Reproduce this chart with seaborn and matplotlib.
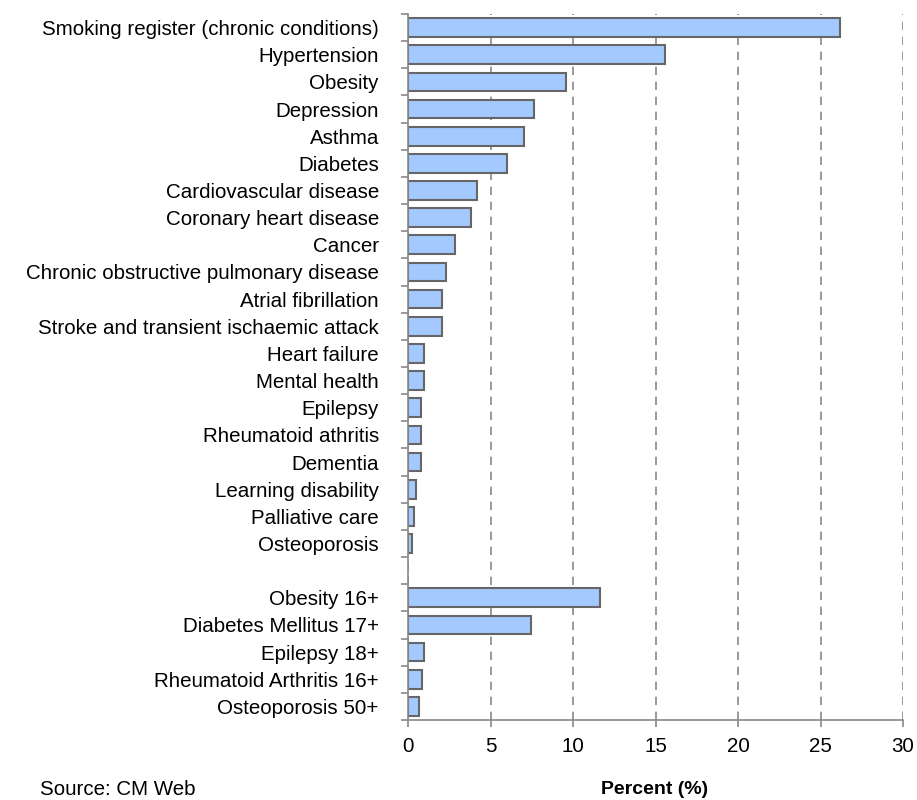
import numpy as np
import pandas as pd
import seaborn as sns
import matplotlib.pyplot as plt

conditions = [
    "Smoking register (chronic conditions)", "Hypertension", "Obesity",
    "Depression", "Asthma", "Diabetes", "Cardiovascular disease",
    "Coronary heart disease", "Cancer",
    "Chronic obstructive pulmonary disease", "Atrial fibrillation",
    "Stroke and transient ischaemic attack", "Heart failure",
    "Mental health", "Epilepsy", "Rheumatoid athritis", "Dementia",
    "Learning disability", "Palliative care", "Osteoporosis",
]
condition_pct = [26.2, 15.6, 9.55, 7.65, 7.02, 5.97, 4.17, 3.79, 2.83,
                 2.33, 2.09, 2.09, 0.99, 0.97, 0.77, 0.77, 0.77, 0.51,
                 0.38, 0.26]

age_groups = ["Obesity 16+", "Diabetes Mellitus 17+", "Epilepsy 18+",
              "Rheumatoid Arthritis 16+", "Osteoporosis 50+"]
age_pct = [11.65, 7.45, 0.99, 0.87, 0.65]

labels = conditions + [" "] + age_groups
values = condition_pct + [np.nan] + age_pct
df = pd.DataFrame({"label": labels, "pct": values})

sns.set_style("white")
plt.rcParams["font.family"] = ["Liberation Sans", "DejaVu Sans"]
plt.rcParams["text.color"] = "black"
plt.rcParams["xtick.color"] = "black"
plt.rcParams["ytick.color"] = "black"

fig = plt.figure(figsize=(9.17, 8), dpi=100)
ax = fig.add_axes([408 / 917, 80 / 800, 495 / 917, 706 / 800])

sns.barplot(data=df, x="pct", y="label", order=labels, ax=ax,
            color="#a3c9ff", saturation=1, width=0.69,
            edgecolor="#666666", linewidth=1.5)

ax.set_xlim(0, 30)
ax.set_ylim(len(labels) - 0.5, -0.5)
ax.set_xticks(range(0, 31, 5))
ax.grid(axis="x", color="#888888", linestyle=(0, (5, 4)), linewidth=1.2)
ax.grid(axis="y", visible=False)
ax.set_axisbelow(True)

ax.set_yticks(np.arange(-0.5, len(labels)), minor=True)
ax.tick_params(axis="y", which="major", length=0, pad=21, labelsize=14.8,
               labelcolor="black")
ax.tick_params(axis="y", which="minor", length=5, width=1.2, color="#888888", left=True)
ax.tick_params(axis="x", length=5, width=1.2, color="#888888", bottom=True,
               labelsize=14.8, labelcolor="black", pad=7)

for side in ["top", "right"]:
    ax.spines[side].set_visible(False)
for side in ["left", "bottom"]:
    ax.spines[side].set_color("#888888")
    ax.spines[side].set_linewidth(1.2)

ax.set_xlabel("")
ax.set_ylabel("")

fig.text(655 / 917, 1 - 781 / 800, "Percent (%)", ha="center", va="top",
         fontsize=14, fontweight="bold", color="black")
fig.text(40 / 917, 1 - 780 / 800, "Source: CM Web", ha="left", va="top",
         fontsize=14.8, color="black")

fig.savefig("out.png", dpi=100)
plt.close(fig)
